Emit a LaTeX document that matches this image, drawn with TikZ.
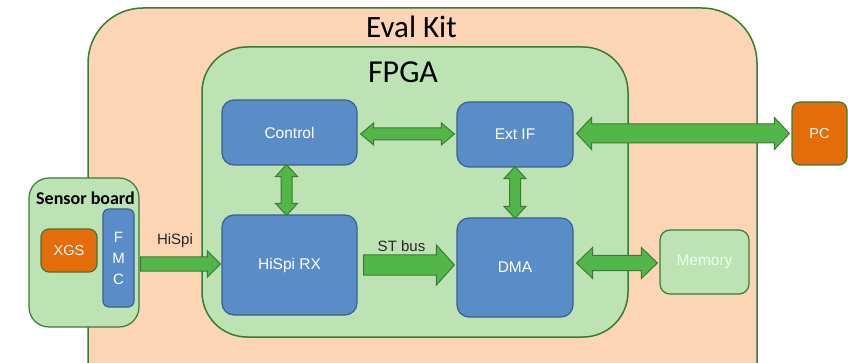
\documentclass[tikz,border=0pt]{standalone}
\usepackage{fontspec}
\setmainfont{Liberation Sans}
\newfontfamily\carlito{Carlito}
\usetikzlibrary{calc}
\definecolor{peach}{HTML}{FBD5B5}
\definecolor{lgreen}{HTML}{BDE3B5}
\definecolor{dgreen}{HTML}{3B7A33}
\definecolor{agreen}{HTML}{52B748}
\definecolor{bblue}{HTML}{5A8CC8}
\definecolor{bbord}{HTML}{3A5F8F}
\definecolor{orng}{HTML}{E46C0A}
\tikzset{
  region/.style={draw=dgreen,line width=1.5pt,rectangle,inner sep=0pt},
  bluebox/.style={draw=bbord,fill=bblue,line width=1.2pt,rounded corners=12pt,inner sep=0pt,text=white,font=\fontsize{15.5}{18}\selectfont},
  orangebox/.style={draw=dgreen,fill=orng,line width=1.2pt,rounded corners=8pt,inner sep=0pt,text=white,font=\fontsize{14.5}{18}\selectfont},
  fat/.style={draw=dgreen,fill=agreen,line width=1pt,line join=miter},
  lbl/.style={font=\fontsize{15}{18}\selectfont,text=black!85}
}
\newcommand\HDbl[5]{\draw[fat] let \p1=(#1), \p2=(#2) in
  (\x1,\y1) -- (\x1+#5,\y1+#4) -- (\x1+#5,\y1+#3) -- (\x2-#5,\y1+#3) -- (\x2-#5,\y1+#4) -- (\x2,\y1)
  -- (\x2-#5,\y1-#4) -- (\x2-#5,\y1-#3) -- (\x1+#5,\y1-#3) -- (\x1+#5,\y1-#4) -- cycle;}
\newcommand\HSgl[5]{\draw[fat] let \p1=(#1), \p2=(#2) in
  (\x1,\y1+#3) -- (\x2-#5,\y1+#3) -- (\x2-#5,\y1+#4) -- (\x2,\y1)
  -- (\x2-#5,\y1-#4) -- (\x2-#5,\y1-#3) -- (\x1,\y1-#3) -- cycle;}
\newcommand\VDbl[5]{\draw[fat] let \p1=(#1), \p2=(#2) in
  (\x1,\y1) -- (\x1+#4,\y1-#5) -- (\x1+#3,\y1-#5) -- (\x1+#3,\y2+#5) -- (\x1+#4,\y2+#5) -- (\x1,\y2)
  -- (\x1-#4,\y2+#5) -- (\x1-#3,\y2+#5) -- (\x1-#3,\y1-#5) -- (\x1-#4,\y1-#5) -- cycle;}
\begin{document}
\begin{tikzpicture}[x=1pt,y=-1pt]
\clip (0,0) rectangle (848,363);
\useasboundingbox (0,0) rectangle (848,363);
% regions
\node[region,fill=peach,rounded corners=55pt,minimum width=669pt,minimum height=412pt] (evalkit) at (422.5,214) {};
\node[font=\carlito\fontsize{31}{36}\selectfont] (evaltitle) at (411.5,27) {Eval Kit};
\node[region,fill=lgreen,rounded corners=45pt,minimum width=426pt,minimum height=290pt] (fpga) at (415,192) {};
\node[font=\carlito\fontsize{32}{36}\selectfont] (fpgatitle) at (403,72) {FPGA};
\node[region,fill=lgreen,line width=1.2pt,rounded corners=20pt,minimum width=110pt,minimum height=149pt] (sensor) at (84,252.5) {};
\node[font=\carlito\bfseries\fontsize{18}{20}\selectfont] (sensortitle) at (85.5,198) {Sensor board};
% inner boxes
\node[bluebox,minimum width=135pt,minimum height=65pt] (ctrl) at (289.5,132.5) {Control};
\node[bluebox,minimum width=116pt,minimum height=65pt] (extif) at (515,134.5) {Ext IF};
\node[bluebox,minimum width=135pt,minimum height=100pt] (hispi) at (289.5,265) {HiSpi RX};
\node[bluebox,minimum width=116pt,minimum height=99pt] (dma) at (515,267.5) {DMA};
\node[region,fill=lgreen,line width=1.2pt,rounded corners=10pt,minimum width=89pt,minimum height=64pt,text=white!93!green,font=\fontsize{15.5}{18}\selectfont] (mem) at (704.5,262) {Memory};
\node[orangebox,minimum width=55pt,minimum height=63pt] (pc) at (819.5,133.5) {PC};
\node[orangebox,minimum width=56pt,minimum height=43pt] (xgs) at (69,250.5) {XGS};
\node[bluebox,rounded corners=6pt,minimum width=31pt,minimum height=98pt,align=center,font=\fontsize{15}{21}\selectfont] (fmc) at (118.5,258) {F\\M\\C};
% arrows
\HDbl{$(ctrl.east)+(3,1.5)$}{$(extif.west)+(-2,0)$}{6pt}{11pt}{13pt}
\VDbl{$(ctrl.south)+(-3,-1)$}{$(hispi.north)+(-3,1)$}{5.5pt}{11pt}{12pt}
\VDbl{$(extif.south)+(0,-1)$}{$(dma.north)+(0,1)$}{5.5pt}{11pt}{12pt}
\HDbl{$(extif.east)+(3,-1)$}{$(pc.west)+(-2,0)$}{9.5pt}{16pt}{15pt}
\HDbl{$(dma.east |- mem.west)+(3,1)$}{$(mem.west)+(-2,0)$}{7.5pt}{15.5pt}{16pt}
\HSgl{$(sensor.east |- hispi.west)+(1,-1)$}{$(hispi.west)+(-1,0)$}{7pt}{13pt}{13pt}
\HSgl{$(hispi.east)+(6,0)$}{$(dma.west |- hispi.east)+(-2,0)$}{10pt}{20pt}{18pt}
% labels
\node[lbl] (hispilbl) at (175,241) {HiSpi};
\node[lbl] (stlbl) at (401.5,246) {ST bus};
\end{tikzpicture}
\end{document}
